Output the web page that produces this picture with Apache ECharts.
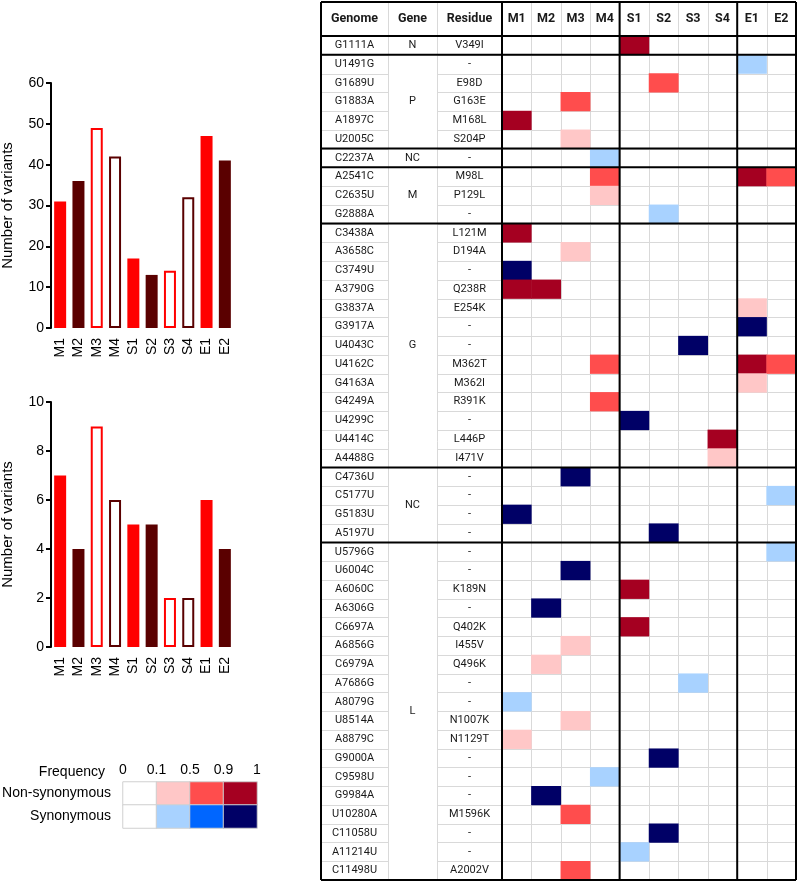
<!DOCTYPE html>
<html><head><meta charset="utf-8">
<script src="https://cdn.jsdelivr.net/npm/echarts@6/dist/echarts.min.js"></script>
<style>html,body{margin:0;padding:0;background:#fff}#c{width:800px;height:884px}</style>
</head><body><div id="c"></div>
<script>
// ---------- DATA ----------
const samples = ['M1','M2','M3','M4','S1','S2','S3','S4','E1','E2'];
const totalVariants = [31,36,49,42,17,13,14,32,47,41];
const highFreqVariants = [7,4,9,6,5,5,2,2,6,4];

const tableHeaders = ['Genome','Gene','Residue'];
const genomeChanges = ['G1111A','U1491G','G1689U','G1883A','A1897C','U2005C','C2237A','A2541C','C2635U','G2888A','C3438A','A3658C','C3749U','A3790G','G3837A','G3917A','U4043C','U4162C','G4163A','G4249A','U4299C','U4414C','A4488G','C4736U','C5177U','G5183U','A5197U','U5796G','U6004C','A6060C','A6306G','C6697A','A6856G','C6979A','A7686G','A8079G','U8514A','A8879C','G9000A','C9598U','G9984A','U10280A','C11058U','A11214U','C11498U'];
const residueChanges = ['V349I','-','E98D','G163E','M168L','S204P','-','M98L','P129L','-','L121M','D194A','-','Q238R','E254K','-','-','M362T','M362I','R391K','-','L446P','I471V','-','-','-','-','-','-','K189N','-','Q402K','I455V','Q496K','-','-','N1007K','N1129T','-','-','-','M1596K','-','-','A2002V'];
const geneNames = ['N','P','NC','M','G','NC','L'];
const geneRowCounts = [1,5,1,3,13,4,18];
// [sampleIndex, rowIndex, level]  level: +1..+3 non-synonymous, -1..-3 synonymous (frequency bins)
const variantCells = [
 [4,0,3],[8,1,-1],[5,2,2],[2,3,2],[0,4,3],[2,5,1],[3,6,-1],
 [3,7,2],[8,7,3],[9,7,2],[3,8,1],[5,9,-1],
 [0,10,3],[2,11,1],[0,12,-3],[0,13,3],[1,13,3],[8,14,1],[8,15,-3],[6,16,-3],
 [3,17,2],[8,17,3],[9,17,2],[8,18,1],[3,19,2],[4,20,-3],[7,21,3],[7,22,1],
 [2,23,-3],[9,24,-1],[0,25,-3],[5,26,-3],
 [9,27,-1],[2,28,-3],[4,29,3],[1,30,-3],[4,31,3],[2,32,1],[1,33,1],[6,34,-1],
 [0,35,-1],[2,36,1],[0,37,1],[5,38,-3],[3,39,-1],[1,40,-3],[2,41,2],[5,42,-3],
 [4,43,-1],[2,44,2]
];
const freqTicks = ['0','0.1','0.5','0.9','1'];
const freqBins = ['0-0.1','0.1-0.5','0.5-0.9','0.9-1'];
const legendRows = ['Non-synonymous','Synonymous'];
const legendCells = [[0,0,0],[1,0,1],[2,0,2],[3,0,3],[0,1,0],[1,1,-1],[2,1,-2],[3,1,-3]];

// ---------- STYLE / LAYOUT ----------
const RED = '#FF0000', DARK = '#5A0000';
const levelColors = {'3':'#A50021','2':'#FF4D4D','1':'#FFC7C7','0':'#FFFFFF','-1':'#A8D2FF','-2':'#0066FF','-3':'#000066'};
const AX_FONT = 'Liberation Sans, Arial, sans-serif';
const TB_FONT = 'Roboto, sans-serif';
const TABLE_W = 475;            // table width in px (grid 3 x units)
const TEXT_BOUNDS = [0,67,116,181];
const DATA_COL_W = (TABLE_W - TEXT_BOUNDS[3]) / samples.length;
const ROW_H_PX = 844 / genomeChanges.length;
const HEAD_H = 34 / ROW_H_PX;   // header height in row units
const GRAY = '#D9D9D9';

function barItem(v, i) {
  const d = samples[i][1];
  const color = (d === '1' || d === '3') ? RED : DARK;
  const outline = (d === '3' || d === '4');
  return {value: v, itemStyle: outline ? {color:'#fff', borderColor: color, borderWidth: 2} : {color}};
}
function barX(gi) {
  return {type:'category', gridIndex: gi, data: samples,
    axisLine:{show:false}, axisTick:{show:false},
    axisLabel:{interval:0, rotate:90, margin:10, fontSize:14, color:'#000', fontFamily: AX_FONT}};
}
function barY(gi, max, interval) {
  return {type:'value', gridIndex: gi, min:0, max, interval,
    name:'Number of variants', nameLocation:'middle', nameGap:36,
    nameTextStyle:{fontSize:15, color:'#000', fontFamily: AX_FONT},
    axisLine:{show:true, lineStyle:{color:'#000', width:2}},
    axisTick:{show:true, length:5, lineStyle:{color:'#000', width:2}},
    axisLabel:{fontSize:14, color:'#000', margin:7, fontFamily: AX_FONT},
    splitLine:{show:false}};
}
function px(v){ return Math.round(v) + 0.5; }
function ln(a, b, stroke, w) {
  const snap = w % 2 === 1;
  return {type:'line', shape:{x1: snap?px(a[0]):a[0], y1: snap?px(a[1]):a[1], x2: snap?px(b[0]):b[0], y2: snap?px(b[1]):b[1]},
    style:{stroke, lineWidth:w}};
}
function txt(p, text, bold, size) {
  return {type:'text', x:p[0], y:p[1], style:{text, fill:'#1a1a1a', fontFamily: TB_FONT,
    fontSize:size, fontWeight: bold?'bold':'normal', align:'center', verticalAlign:'middle'}};
}
const nRows = genomeChanges.length;
const groupBounds = [];
geneRowCounts.reduce((acc, c) => { groupBounds.push(acc + c); return acc + c; }, 0);
const sampleBounds = [];
samples.forEach((s, i) => { if (i > 0 && s[0] !== samples[i-1][0]) sampleBounds.push(i); });

function renderGrayLines(params, api) {
  const ch = [];
  const xs = [TEXT_BOUNDS[1], TEXT_BOUNDS[2]];
  for (let i = 1; i < samples.length; i++) xs.push(TEXT_BOUNDS[3] + i * DATA_COL_W);
  xs.forEach(x => ch.push(ln(api.coord([x, -HEAD_H]), api.coord([x, nRows]), GRAY, 1)));
  for (let r = 1; r < nRows; r++) {
    ch.push(ln(api.coord([0, r]), api.coord([TEXT_BOUNDS[1], r]), GRAY, 1));
    ch.push(ln(api.coord([TEXT_BOUNDS[2], r]), api.coord([TABLE_W, r]), GRAY, 1));
  }
  return {type:'group', children: ch};
}
function renderFrame(params, api) {
  const ch = [];
  const B = '#000';
  [-HEAD_H, 0, nRows].concat(groupBounds.slice(0, -1)).forEach(y =>
    ch.push(ln(api.coord([0, y]), api.coord([TABLE_W, y]), B, 2)));
  const vx = [0, TEXT_BOUNDS[3], TABLE_W].concat(sampleBounds.map(i => TEXT_BOUNDS[3] + i * DATA_COL_W));
  vx.forEach(x => ch.push(ln(api.coord([x, -HEAD_H]), api.coord([x, nRows]), B, 2)));
  tableHeaders.forEach((h, k) => {
    const cx = (TEXT_BOUNDS[k] + TEXT_BOUNDS[k+1]) / 2;
    ch.push(txt(api.coord([cx, -HEAD_H/2]), h, true, 12.5));
  });
  return {type:'group', children: ch};
}
function renderRowText(params, api) {
  const i = params.dataIndex;
  const y = i + 0.5;
  return {type:'group', children:[
    txt(api.coord([(TEXT_BOUNDS[0]+TEXT_BOUNDS[1])/2, y]), genomeChanges[i], false, 11),
    txt(api.coord([(TEXT_BOUNDS[2]+TEXT_BOUNDS[3])/2, y]), residueChanges[i], false, 11)
  ]};
}
function renderGeneText(params, api) {
  const k = params.dataIndex;
  return txt(api.coord([(TEXT_BOUNDS[1]+TEXT_BOUNDS[2])/2, api.value(1)]), geneNames[k], false, 11);
}
const geneCenters = [];
geneRowCounts.reduce((acc, c) => { geneCenters.push([0, acc + c/2]); return acc + c; }, 0);

const pieces = Object.keys(levelColors).map(k => ({value: Number(k), color: levelColors[k]}));

const option = {
  backgroundColor:'#fff',
  animation:false,
  grid:[
    {left:51, top:83, width:183, height:245, outerBoundsMode:'none'},
    {left:51, top:402, width:183, height:245, outerBoundsMode:'none'},
    {left:502, top:36, width:294, height:844, outerBoundsMode:'none'},
    {left:321, top:36, width:TABLE_W, height:844, outerBoundsMode:'none'},
    {left:123, top:782, width:134, height:46, outerBoundsMode:'none'}
  ],
  xAxis:[
    barX(0), barX(1),
    {type:'category', gridIndex:2, data: samples, position:'top',
      axisLine:{show:false}, axisTick:{show:false}, splitLine:{show:false},
      axisLabel:{margin:11, fontSize:12.5, fontWeight:'bold', color:'#1a1a1a', fontFamily: TB_FONT}},
    {type:'value', gridIndex:3, min:0, max:TABLE_W, show:false},
    {type:'category', gridIndex:4, data: freqBins, show:false},
    {type:'value', gridIndex:4, min:0, max:freqBins.length, interval:1, position:'top',
      name:'Frequency', nameLocation:'start', nameGap:18,
      nameTextStyle:{fontSize:14, color:'#000', fontFamily: AX_FONT, verticalAlign:'bottom', padding:[0,0,3,0]},
      axisLine:{show:false}, axisTick:{show:false}, splitLine:{show:false},
      axisLabel:{margin:5, fontSize:14, color:'#000', fontFamily: AX_FONT, formatter:(v)=>freqTicks[Math.round(v)]}}
  ],
  yAxis:[
    barY(0, 60, 10), barY(1, 10, 2),
    {type:'category', gridIndex:2, data: genomeChanges, inverse:true, show:false},
    {type:'value', gridIndex:3, min:0, max:nRows, inverse:true, show:false},
    {type:'category', gridIndex:4, data: legendRows, inverse:true,
      axisLine:{show:false}, axisTick:{show:false},
      axisLabel:{margin:12, fontSize:14, color:'#000', fontFamily: AX_FONT}}
  ],
  visualMap:{type:'piecewise', show:false, dimension:2, seriesIndex:[2,7], pieces},
  series:[
    {type:'bar', xAxisIndex:0, yAxisIndex:0, barWidth:12, data: totalVariants.map(barItem)},
    {type:'bar', xAxisIndex:1, yAxisIndex:1, barWidth:12, data: highFreqVariants.map(barItem)},
    {type:'heatmap', xAxisIndex:2, yAxisIndex:2, z:3, data: variantCells, itemStyle:{borderWidth:0}},
    {type:'custom', xAxisIndex:3, yAxisIndex:3, z:1, clip:false, data:[[0,0]], renderItem: renderGrayLines, silent:true},
    {type:'custom', xAxisIndex:3, yAxisIndex:3, z:4, clip:false, data: genomeChanges.map((g,i)=>[0,i]), renderItem: renderRowText, silent:true},
    {type:'custom', xAxisIndex:3, yAxisIndex:3, z:4, clip:false, data: geneCenters, renderItem: renderGeneText, silent:true},
    {type:'custom', xAxisIndex:3, yAxisIndex:3, z:6, clip:false, data:[[0,0]], renderItem: renderFrame, silent:true},
    {type:'heatmap', xAxisIndex:4, yAxisIndex:4, data: legendCells, itemStyle:{borderColor:'#D0D0D0', borderWidth:1}}
  ]
};
const chart = echarts.init(document.getElementById('c'), null, {renderer:'canvas'});
chart.setOption(option);
</script></body></html>
